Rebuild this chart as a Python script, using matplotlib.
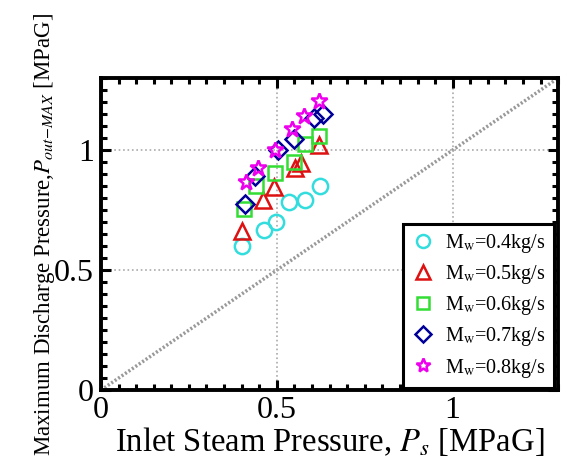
import matplotlib
matplotlib.use("Agg")
import matplotlib.pyplot as plt
from matplotlib.ticker import MultipleLocator

plt.rcParams['font.family'] = ['Liberation Serif', 'DejaVu Serif']
plt.rcParams['mathtext.fontset'] = 'stix'

# Data (inlet steam pressure, max discharge pressure) per water flow rate
ps_04 = [0.400, 0.463, 0.499, 0.534, 0.579, 0.624]
po_04 = [0.600, 0.668, 0.699, 0.782, 0.793, 0.851]
ps_05 = [0.400, 0.460, 0.491, 0.551, 0.569, 0.621]
po_05 = [0.664, 0.791, 0.847, 0.927, 0.948, 1.020]
ps_06 = [0.406, 0.442, 0.494, 0.548, 0.581, 0.619]
po_06 = [0.754, 0.851, 0.906, 0.950, 1.024, 1.058]
ps_07 = [0.409, 0.439, 0.504, 0.548, 0.607, 0.631]
po_07 = [0.775, 0.892, 1.000, 1.047, 1.134, 1.151]
ps_08 = [0.412, 0.447, 0.494, 0.543, 0.578, 0.621]
po_08 = [0.865, 0.927, 1.000, 1.089, 1.141, 1.203]

labels = [r'M$_{\mathrm{w}}$=0.4kg/s', r'M$_{\mathrm{w}}$=0.5kg/s',
          r'M$_{\mathrm{w}}$=0.6kg/s', r'M$_{\mathrm{w}}$=0.7kg/s',
          r'M$_{\mathrm{w}}$=0.8kg/s']
xticks = [0, 0.5, 1]
yticks = [0, 0.5, 1]
diag = [0, 1.3]

fig = plt.figure(figsize=(5.61, 4.70), dpi=100)
ax = fig.add_axes([0.180, 0.170, 0.815, 0.664])

ax.plot(diag, diag, color='#999999', lw=2.5, ls=(0, (0.6, 0.6)), zorder=1)

series = [
    (ps_04, po_04, 'o', '#33dddd', 11),
    (ps_05, po_05, '^', '#dd1111', 12),
    (ps_06, po_06, 's', '#33dd33', 10),
    (ps_07, po_07, 'D', '#000099', 9),
    (ps_08, po_08, '*', '#ee00ee', 12),
]
for (x, y, m, c, ms), lab in zip(series, labels):
    ax.plot(x, y, ls='none', marker=m, ms=ms, mfc='none', mec=c, mew=1.8,
            label=lab, zorder=3)

ax.set_xlim(0, 1.3)
ax.set_ylim(0, 1.3)
ax.set_xticks(xticks)
ax.set_yticks(yticks)
ax.set_xticklabels(['0', '0.5', '1'])
ax.set_yticklabels(['0', '0.5', '1'])
ax.xaxis.set_minor_locator(MultipleLocator(0.05))
ax.yaxis.set_minor_locator(MultipleLocator(0.05))
ax.tick_params(which='both', direction='in', top=True, right=True, width=2.2,
               labelsize=23)
ax.tick_params(axis='x', pad=4)
ax.tick_params(axis='y', pad=5)
ax.tick_params(which='major', length=7)
ax.tick_params(which='minor', length=4)
ax.grid(True, which='major', color='#aaaaaa', ls=':', lw=1.2)
for s in ax.spines.values():
    s.set_linewidth(2.8)

ax.set_xlabel(r'Inlet Steam Pressure, $P_{s}$ [MPaG]', fontsize=23.5, labelpad=0)
ax.set_ylabel(r'Maximum Discharge Pressure,$P_{out\mathrm{-}MAX}$ [MPaG]',
              fontsize=16.5, labelpad=-2)

leg = ax.legend(loc='lower right', bbox_to_anchor=(0.99, 0.008),
                borderaxespad=0, fontsize=14.5, fancybox=False, framealpha=1,
                edgecolor='black', labelspacing=0.4, handletextpad=0.5,
                handlelength=1.2, borderpad=0.4, markerscale=0.85)
leg.get_frame().set_linewidth(2.2)

fig.savefig('out.png', dpi=100)
